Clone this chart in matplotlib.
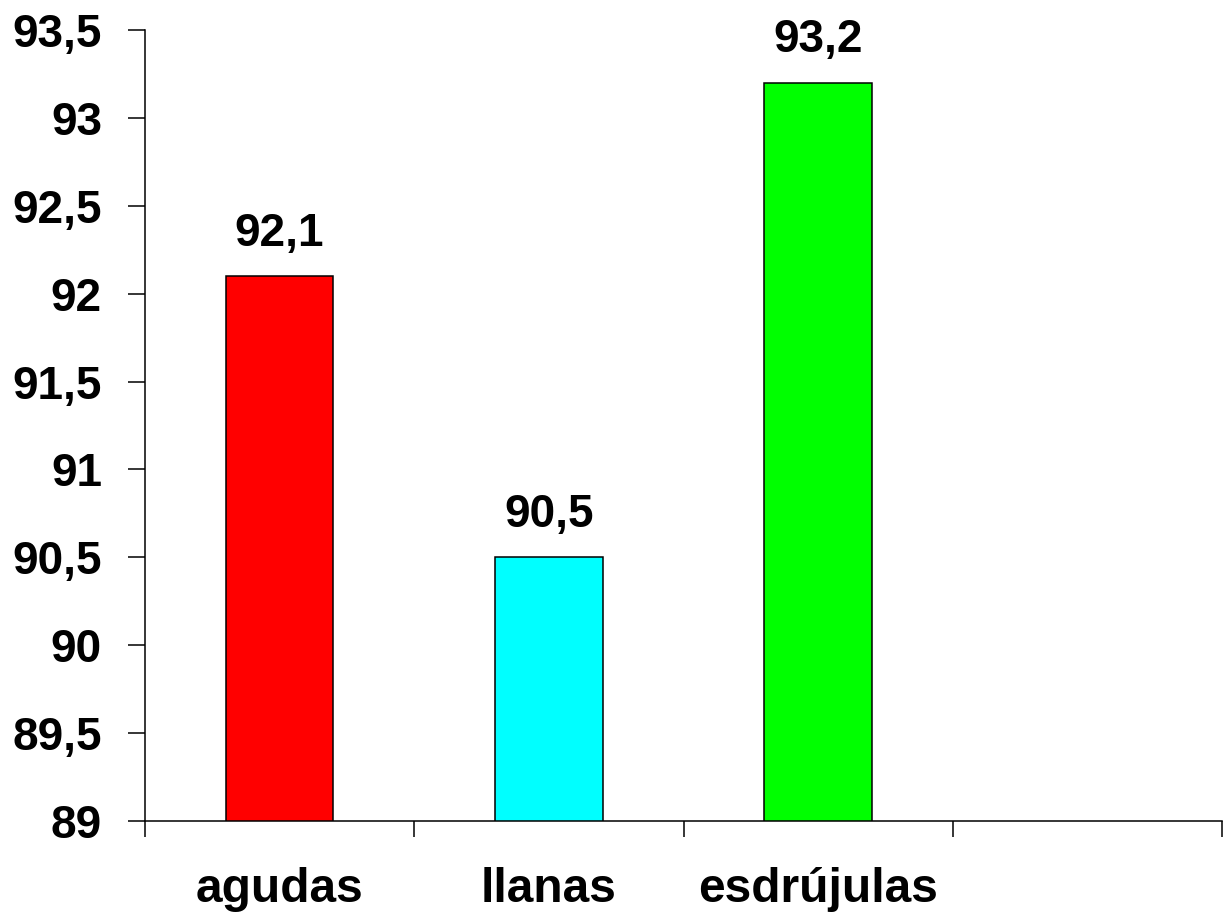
import matplotlib.pyplot as plt
import numpy as np

categories = ["agudas", "llanas", "esdrújulas", ""]
values = [92.1, 90.5, 93.2]
colors = ["#FF0000", "#00FFFF", "#00FF00"]
value_labels = ["92,1", "90,5", "93,2"]
yticks = [89, 89.5, 90, 90.5, 91, 91.5, 92, 92.5, 93, 93.5]
ytick_labels = ["89", "89,5", "90", "90,5", "91", "91,5", "92", "92,5", "93", "93,5"]

plt.rcParams["font.family"] = ["Liberation Sans", "DejaVu Sans"]
plt.rcParams["font.weight"] = "bold"

fig = plt.figure(figsize=(12.25, 9.22), dpi=100)
ax = fig.add_axes([145 / 1225, 1 - 821 / 922, (1222 - 145) / 1225, (821 - 30) / 922])

x = np.arange(len(values))
ax.bar(x, values, width=0.4, color=colors, edgecolor="black", linewidth=1.1)
for xi, v, lab in zip(x, values, value_labels):
    ax.annotate(lab, (xi, v), xytext=(0, 22), textcoords="offset points",
                ha="center", va="baseline", fontsize=33, fontweight="bold")

ax.set_ylim(89, 93.5)
ax.set_xlim(-0.5, len(categories) - 0.5)
ax.set_yticks(yticks)
ax.set_yticklabels(ytick_labels, fontsize=33, fontweight="bold")
ax.set_xticks(np.arange(len(categories)))
ax.set_xticklabels(categories, fontsize=34.5, fontweight="bold")
ax.set_xticks(np.arange(len(categories) + 1) - 0.5, minor=True)
ax.tick_params(axis="x", which="major", length=0, pad=33)
ax.tick_params(axis="x", which="minor", length=11.5, width=1.1, direction="out")
ax.tick_params(axis="y", length=12, width=1.1, direction="out", pad=19)

for s in ["left", "bottom"]:
    ax.spines[s].set_linewidth(1.1)
ax.spines["top"].set_visible(False)
ax.spines["right"].set_visible(False)

fig.savefig("out.png", dpi=100)
